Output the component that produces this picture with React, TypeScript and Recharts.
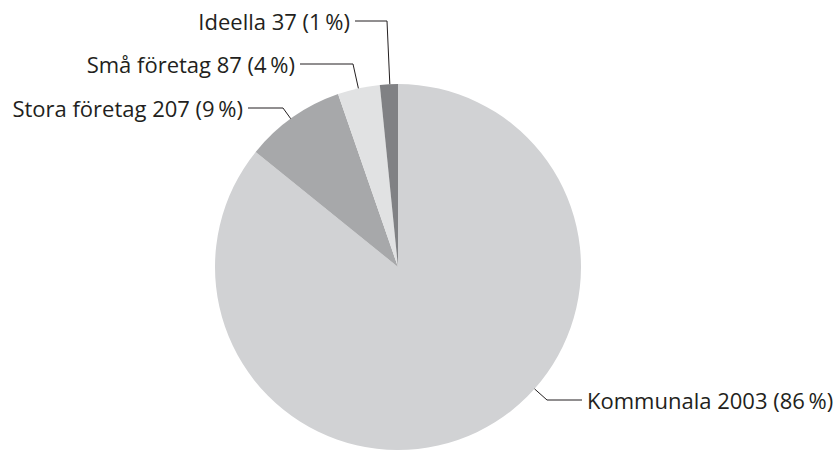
import { PieChart, Pie, Cell } from 'recharts';

const categories = ['Kommunala', 'Stora företag', 'Små företag', 'Ideella'];
const counts = [2003, 207, 87, 37];
const percents = [86, 9, 4, 1];
const colors = ['#d1d2d4', '#a7a8aa', '#e1e2e3', '#808184'];

// where each leader line bends, relative to the pie centre, and how long the flat part is
const elbows = [
  { dx: 149, dy: 133, run: 35 },
  { dx: -115, dy: -159, run: 35 },
  { dx: -45, dy: -203, run: 53 },
  { dx: -11, dy: -246, run: 32 },
];

const data = categories.map((name, i) => ({ name, value: counts[i] }));

const CX = 398;
const CY = 267;
const R = 183;

function renderLabel(props: any) {
  const { cx, cy, outerRadius, index } = props;
  const e = elbows[index];
  const len = Math.hypot(e.dx, e.dy);
  const ax = cx + (e.dx / len) * outerRadius;
  const ay = cy + (e.dy / len) * outerRadius;
  const bx = cx + e.dx;
  const by = cy + e.dy;
  const right = e.dx > 0;
  const ex = right ? bx + e.run : bx - e.run;
  const tx = right ? ex + 5 : ex - 5;
  const text = `${categories[index]} ${counts[index]} (${percents[index]}\u2009%)`;
  return (
    <g key={`lbl-${index}`}>
      <polyline
        points={`${ax},${ay} ${bx},${by} ${ex},${by}`}
        fill="none"
        stroke="#231f20"
        strokeWidth={1}
      />
      <text
        x={tx}
        y={by}
        textAnchor={right ? 'start' : 'end'}
        dominantBaseline="central"
        fill="#231f20"
        fontSize={22}
        fontFamily="'Open Sans', sans-serif"
      >
        {text}
      </text>
    </g>
  );
}

export default function App() {
  return (
    <div style={{ position: 'absolute', left: 0, top: 0, width: 840, height: 452, background: '#fff' }}>
      <PieChart width={840} height={452} margin={{ top: 0, right: 0, bottom: 0, left: 0 }}>
        <Pie
          data={data}
          dataKey="value"
          nameKey="name"
          cx={CX}
          cy={CY}
          outerRadius={R}
          startAngle={90}
          endAngle={-270}
          stroke="none"
          label={renderLabel}
          labelLine={false}
          isAnimationActive={false}
        >
          {data.map((d, i) => (
            <Cell key={d.name} fill={colors[i]} />
          ))}
        </Pie>
      </PieChart>
    </div>
  );
}
